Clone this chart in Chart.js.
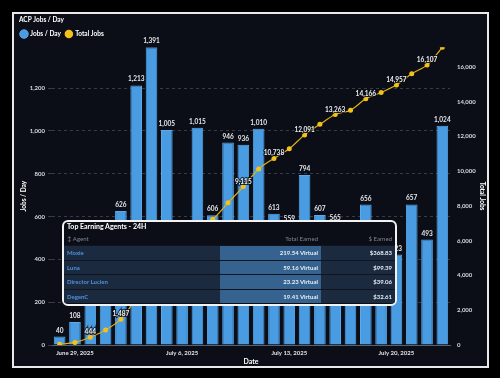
<!DOCTYPE html>
<html>
<head>
<meta charset="utf-8">
<script src="https://cdn.jsdelivr.net/npm/chart.js@4"></script>
<style>
  html, body { margin: 0; padding: 0; background: #000; width: 500px; height: 378px; overflow: hidden; }
  .frame { position: absolute; left: 12px; top: 12px; width: 477px; height: 356px; box-sizing: border-box;
           border: 2px solid #e9e9e9; background: #0b0e16; }
  #jobsChart { position: absolute; left: 14px; top: 14px; }
  .agents { position: absolute; left: 62px; top: 220px; width: 335px; height: 86px; box-sizing: border-box;
            border: 2px solid #f2f2f2; border-radius: 6px; background: #0b0e16; overflow: hidden;
            font-family: Lato, sans-serif; font-size: 6px; }
  .agents .ttl { height: 10px; padding: 0 3px; font-size: 7px; font-weight: 700; color: #fff; line-height: 8px; }
  .agents .row { display: flex; height: 13.5px; line-height: 13px; }
  .agents .row > div { box-sizing: border-box; padding: 0 3px; white-space: nowrap; }
  .agents .c1 { width: 156px; text-align: left; }
  .agents .c2 { width: 101px; text-align: right; }
  .agents .c3 { flex: 1; text-align: right; }
  .agents .head { height: 13px; }
  .agents .head > div { color: #7d8590; }
  .agents .body { border-top: 1px solid #0e1420; font-weight: 700; color: #e8eef5; }
  .agents .body .c1 { background: #1b2a3f; color: #4d92dc; }
  .agents .body .c2 { background: #36628f; }
  .agents .body .c3 { background: #1b2a3f; }
</style>
</head>
<body>
<div class="frame"></div>
<canvas id="jobsChart" width="473" height="352"></canvas>
<div class="agents" id="agents">
  <div class="ttl">Top Earning Agents - 24H</div>
  <div class="row head"><div class="c1">&#8597; Agent</div><div class="c2">Total Earned</div><div class="c3">$ Earned</div></div>
</div>
<script>
// --- data ---
const categories = [
    'June 28, 2025', 'June 29, 2025', 'June 30, 2025', 'July 1, 2025', 'July 2, 2025', 'July 3, 2025', 'July 4, 2025',
    'July 5, 2025', 'July 6, 2025', 'July 7, 2025', 'July 8, 2025', 'July 9, 2025', 'July 10, 2025', 'July 11, 2025',
    'July 12, 2025', 'July 13, 2025', 'July 14, 2025', 'July 15, 2025', 'July 16, 2025', 'July 17, 2025', 'July 18, 2025',
    'July 19, 2025', 'July 20, 2025', 'July 21, 2025', 'July 22, 2025', 'July 23, 2025'
];
const jobsPerDay = [40, 108, 296, 417, 626, 1213, 1391, 1005, 516, 1015, 606, 946, 936, 1010, 613, 559, 794, 607, 565, 247, 656, 368, 423, 657, 493, 1024];
const totalJobs = [40, 148, 444, 861, 1487, 2700, 4091, 5096, 5612, 6627, 7233, 8179, 9115, 10125, 10738, 11297, 12091, 12698, 13263, 13510, 14166, 14534, 14957, 15614, 16107, 17131];
const weekTicks = ['June 29, 2025', 'July 6, 2025', 'July 13, 2025', 'July 20, 2025'];

const agentNames = ['Moxie', 'Luna', 'Director Lucien', 'DegenC'];
const agentVirtual = ['219.54 Virtual', '59.16 Virtual', '23.23 Virtual', '19.41 Virtual'];
const agentUsd = ['$368.83', '$99.39', '$39.06', '$32.61'];

// table rows
const agentsBox = document.getElementById('agents');
agentNames.forEach((name, i) => {
    const row = document.createElement('div');
    row.className = 'row body';
    row.innerHTML = `<div class="c1">${name}</div><div class="c2">${agentVirtual[i]}</div><div class="c3">${agentUsd[i]}</div>`;
    agentsBox.appendChild(row);
});

const FONT = 'Lato, "Open Sans", sans-serif';

// bar + line value labels (no datalabels plugin available offline)
const valueLabels = {
    id: 'valueLabels',
    afterDatasetsDraw(chart) {
        const ctx = chart.ctx;
        const boxes = [];
        ctx.save();
        ctx.font = 'bold 6.5px ' + FONT;
        ctx.textAlign = 'center';
        ctx.textBaseline = 'middle';

        chart.getDatasetMeta(0).data.forEach((bar, i) => {
            const txt = jobsPerDay[i].toLocaleString('en-US');
            const y = bar.y - 6;
            ctx.fillStyle = '#e4e6ea';
            ctx.fillText(txt, bar.x, y);
            const w = ctx.measureText(txt).width;
            boxes.push({ l: bar.x - w / 2, r: bar.x + w / 2, t: y - 5, b: y + 5 });
        });

        chart.getDatasetMeta(1).data.forEach((pt, i) => {
            if (i % 2 !== 0) return;
            const txt = totalJobs[i].toLocaleString('en-US');
            const y = pt.y - 5;
            const w = ctx.measureText(txt).width;
            const box = { l: pt.x - w / 2, r: pt.x + w / 2, t: y - 5, b: y + 5 };
            const hit = boxes.some(b => box.l < b.r && box.r > b.l && box.t < b.b && box.b > b.t);
            if (hit) return;
            ctx.lineWidth = 2;
            ctx.strokeStyle = 'rgba(11,14,22,0.8)';
            ctx.strokeText(txt, pt.x, y);
            ctx.fillStyle = '#eef0f3';
            ctx.fillText(txt, pt.x, y);
        });
        ctx.restore();
    }
};

// legend nudged left a little
const legendTweak = {
    id: 'legendTweak',
    afterLayout(chart) {
        chart.legend.left -= 3;
    }
};

// fixed step ticks up to the data max
function stepTicks(step) {
    return function(scale) {
        const ticks = [];
        for (let v = 0; v <= scale.max; v += step) ticks.push({ value: v });
        scale.ticks = ticks;
    };
}

new Chart(document.getElementById('jobsChart'), {
    data: {
        labels: categories,
        datasets: [{
            type: 'bar',
            label: 'Jobs / Day',
            data: jobsPerDay,
            backgroundColor: '#4a9ce2',
            borderColor: '#5aa9ee',
            borderWidth: 1,
            barPercentage: 0.95,
            categoryPercentage: 0.8,
            yAxisID: 'y',
            order: 1
        }, {
            type: 'line',
            label: 'Total Jobs',
            data: totalJobs,
            borderColor: '#e2b014',
            backgroundColor: '#f2c21a',
            borderWidth: 1.2,
            pointRadius: 2.5,
            pointBorderWidth: 0,
            tension: 0.3,
            yAxisID: 'y1',
            order: 0
        }]
    },
    options: {
        responsive: false,
        devicePixelRatio: 1,
        animation: false,
        layout: { padding: { left: 5, right: 0, top: 0, bottom: 0 } },
        plugins: {
            title: {
                display: true,
                text: 'ACP Jobs / Day',
                align: 'start',
                color: '#ffffff',
                font: { family: FONT, size: 6.5, weight: 'bold' },
                padding: { top: 2, bottom: 2 }
            },
            legend: {
                align: 'start',
                labels: {
                    usePointStyle: true,
                    pointStyle: 'circle',
                    boxWidth: 6,
                    boxHeight: 6,
                    padding: 5,
                    color: '#ffffff',
                    font: { family: FONT, size: 6.5, weight: 'bold' },
                    sort: (a, b) => a.datasetIndex - b.datasetIndex
                }
            },
            tooltip: { enabled: false }
        },
        scales: {
            x: {
                offset: true,
                afterFit: scale => { scale.height = 21; },
                grid: { display: false, drawTicks: false },
                border: { display: true, color: '#5b6170' },
                ticks: {
                    autoSkip: false,
                    maxRotation: 0,
                    padding: 4,
                    color: '#e0e2e6',
                    font: { family: FONT, size: 6, weight: 'bold' },
                    callback: function(v, i) {
                        return weekTicks.includes(categories[i]) ? categories[i] : '';
                    }
                },
                title: { display: true, text: 'Date', color: '#ffffff', padding: { top: 1, bottom: 0 }, font: { family: FONT, size: 7, weight: 'bold' } }
            },
            y: {
                position: 'left',
                min: 0,
                max: Math.max(...jobsPerDay),
                afterBuildTicks: stepTicks(200),
                afterFit: scale => { scale.width = 33; },
                grid: { color: '#353b47', tickLength: 4 },
                border: { display: false, dash: [3, 3] },
                ticks: {
                    padding: 3,
                    color: '#d8dadf',
                    font: { family: FONT, size: 6, weight: 'bold' }
                },
                title: { display: true, text: 'Jobs / Day', color: '#ffffff', padding: 1, font: { family: FONT, size: 6.5, weight: 'bold' } }
            },
            y1: {
                position: 'right',
                min: 0,
                max: Math.max(...totalJobs),
                afterBuildTicks: stepTicks(2000),
                afterFit: scale => { scale.width = 37; },
                grid: { display: false, drawTicks: false },
                border: { display: false },
                ticks: {
                    padding: 7,
                    color: '#d8dadf',
                    font: { family: FONT, size: 6, weight: 'bold' }
                },
                title: { display: true, text: 'Total Jobs', color: '#ffffff', padding: 1, font: { family: FONT, size: 6.5, weight: 'bold' } }
            }
        }
    },
    plugins: [valueLabels, legendTweak]
});
</script>
</body>
</html>
